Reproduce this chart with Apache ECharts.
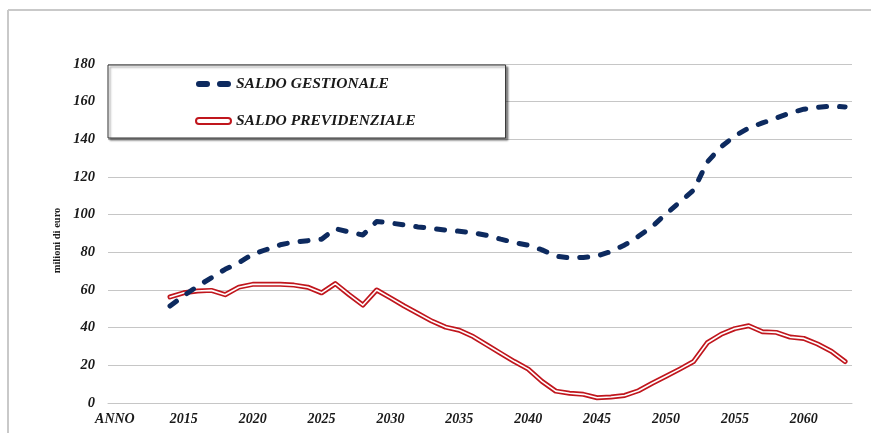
<!DOCTYPE html>
<html>
<head>
<meta charset="utf-8">
<script src="https://cdn.jsdelivr.net/npm/echarts@6/dist/echarts.min.js"></script>
<style>
html,body{margin:0;padding:0;background:#fff;}
#chart{width:871px;height:433px;}
</style>
</head>
<body>
<div id="chart"></div>
<script>
// Category axis: first label "ANNO", then years
const categories = ['ANNO','2011','2012','2013',
  '2014','2015','2016','2017','2018','2019','2020','2021','2022','2023',
  '2024','2025','2026','2027','2028','2029','2030','2031','2032','2033',
  '2034','2035','2036','2037','2038','2039','2040','2041','2042','2043',
  '2044','2045','2046','2047','2048','2049','2050','2051','2052','2053',
  '2054','2055','2056','2057','2058','2059','2060','2061','2062','2063'];

// SALDO GESTIONALE (milioni di euro), 2014-2063
const saldoGestionale = [null,null,null,null,
  51.5,57,62,66.5,71,74.5,79,81.5,84,85.5,
  86.2,87,92.6,90.8,89.2,96.4,95.6,94.5,93.5,92.7,
  91.8,91.2,90.4,89,87,85.2,83.8,81.3,78,77,
  77.3,78,80.4,83.9,88.5,93.7,100.4,106.7,113,128,
  136,141.8,146,148.7,151.3,154,156,157,157.7,157.2];

// SALDO PREVIDENZIALE (milioni di euro), 2014-2063
const saldoPrevidenziale = [null,null,null,null,
  56.3,58.5,59.5,59.8,57.5,61.5,63,63,63,62.6,
  61.5,58.5,63.4,57.5,52,60,55.8,51.5,47.5,43.5,
  40.3,38.6,35.3,30.8,26.4,22,18,11.5,6.3,5.2,
  4.6,2.8,3.2,4,6.5,10.5,14.2,18,22,32,
  36.5,39.5,41,37.8,37.5,35,34.3,31.3,27.5,22];

const yTicks = {min: 0, max: 180, interval: 20};

const serif = '"Liberation Serif", "Times New Roman", serif';
const navy = '#0d2a5f';
const red = '#c0161d';

const chart = echarts.init(document.getElementById('chart'));
chart.setOption({
  animation: false,
  backgroundColor: '#fff',
  graphic: [
    {type: 'line', shape: {x1: 8, y1: 10, x2: 871, y2: 10}, style: {stroke: '#c9c9c9', lineWidth: 2}, silent: true},
    {type: 'line', shape: {x1: 8, y1: 10, x2: 8, y2: 433}, style: {stroke: '#c9c9c9', lineWidth: 2}, silent: true}
  ],
  grid: {left: 108, right: 19, top: 64, bottom: 30, containLabel: false},
  legend: {
    orient: 'vertical',
    left: 108, top: 65,
    padding: [11, 90, 9, 87],
    itemGap: 21,
    itemWidth: 35, itemHeight: 6,
    backgroundColor: '#fff',
    borderColor: '#333',
    borderWidth: 1,
    shadowColor: 'rgba(0,0,0,0.45)',
    shadowBlur: 2,
    shadowOffsetX: 2,
    shadowOffsetY: 2,
    selectedMode: false,
    textStyle: {fontFamily: serif, fontStyle: 'italic', fontWeight: 'bold', fontSize: 15.5, color: '#1a1a1a', lineHeight: 16},
    data: [
      {name: 'SALDO GESTIONALE',
       icon: 'path://M3,0h8a3,3 0 0 1 0,6h-8a3,3 0 0 1 0,-6zM24,0h8a3,3 0 0 1 0,6h-8a3,3 0 0 1 0,-6z',
       itemStyle: {color: navy, borderWidth: 0}},
      {name: 'SALDO PREVIDENZIALE',
       icon: 'path://M3,0h29a3,3 0 0 1 0,6h-29a3,3 0 0 1 0,-6z',
       itemStyle: {color: '#fff', borderColor: red, borderWidth: 2}}
    ]
  },
  xAxis: {
    type: 'category',
    data: categories,
    boundaryGap: true,
    axisLine: {show: true, lineStyle: {color: '#c6c6c6', width: 1}},
    axisTick: {show: false},
    axisLabel: {interval: 4, margin: 9, fontFamily: serif, fontStyle: 'italic', fontWeight: 'bold', fontSize: 14, color: '#1a1a1a'},
    splitLine: {show: false}
  },
  yAxis: {
    type: 'value',
    min: yTicks.min, max: yTicks.max, interval: yTicks.interval,
    name: 'milioni di euro',
    nameLocation: 'middle',
    nameGap: 39,
    nameTextStyle: {fontFamily: serif, fontWeight: 'bold', fontSize: 10.5, color: '#1a1a1a', padding: [0, 14, 0, 0]},
    axisLine: {show: false},
    axisTick: {show: false},
    axisLabel: {margin: 13, fontFamily: serif, fontStyle: 'italic', fontWeight: 'bold', fontSize: 14.5, color: '#1a1a1a'},
    splitLine: {show: true, lineStyle: {color: '#c6c6c6', width: 1}}
  },
  series: [
    {
      name: 'SALDO GESTIONALE',
      type: 'line',
      data: saldoGestionale,
      symbol: 'none',
      itemStyle: {color: navy},
      lineStyle: {color: navy, width: 5, type: [8, 13], cap: 'round', join: 'round'},
      z: 3
    },
    {
      name: 'SALDO PREVIDENZIALE',
      type: 'line',
      data: saldoPrevidenziale,
      symbol: 'none',
      itemStyle: {color: red},
      lineStyle: {color: red, width: 5, join: 'round', cap: 'round'},
      z: 2
    },
    {
      name: 'SALDO PREVIDENZIALE',
      type: 'line',
      data: saldoPrevidenziale,
      symbol: 'none',
      itemStyle: {color: '#fff'},
      lineStyle: {color: '#fff', width: 1.6, join: 'round', cap: 'round'},
      z: 2
    }
  ]
});
</script>
</body>
</html>
